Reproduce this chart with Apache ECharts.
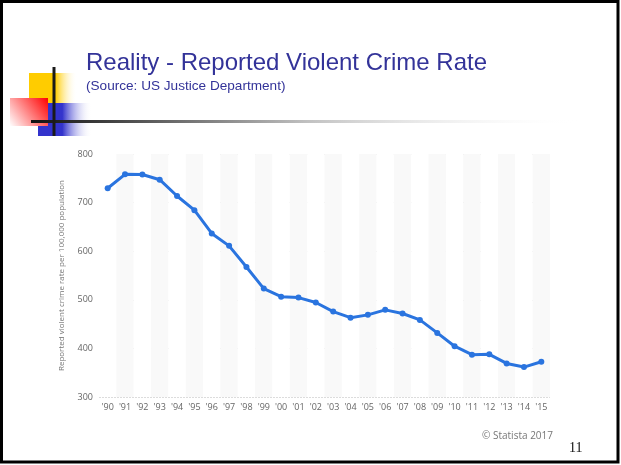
<!DOCTYPE html>
<html><head><meta charset="utf-8">
<script src="https://cdn.jsdelivr.net/npm/echarts@6/dist/echarts.min.js"></script>
<style>html,body{margin:0;padding:0;background:#fff}#c{width:621px;height:465px}</style>
</head><body><div id="c"></div>
<script>
const years = ["'90","'91","'92","'93","'94","'95","'96","'97","'98","'99","'00","'01","'02","'03","'04","'05","'06","'07","'08","'09","'10","'11","'12","'13","'14","'15"];
const crimeRate = [729.6,758.2,757.7,747.1,713.6,684.5,636.6,611.0,567.6,523.0,506.5,504.5,494.4,475.8,463.2,469.0,479.3,471.8,458.6,431.9,404.5,387.1,387.8,369.1,361.6,372.6];
const yTicks = {min:300, max:800, interval:100};
const titleText = 'Reality - Reported Violent Crime Rate';
const subText = '(Source: US Justice Department)';
const yName = 'Reported violent crime rate per 100,000 population';
const credit = '© Statista 2017';
const pageNo = '11';

const chart = echarts.init(document.getElementById('c'), null, {renderer:'canvas'});
chart.setOption({
  animation:false,
  backgroundColor:'#fff',
  grid:{left:99,right:71,top:154,bottom:68},
  xAxis:{type:'category',data:years,boundaryGap:true,
    axisLine:{show:false},axisTick:{show:false},
    axisLabel:{color:'#666',fontSize:9,margin:6,fontFamily:'Open Sans',interval:0},
    splitArea:{show:true,areaStyle:{color:['rgba(255,255,255,1)','rgba(249,249,249,1)']}}},
  yAxis:{type:'value',min:yTicks.min,max:yTicks.max,interval:yTicks.interval,
    name:yName,nameLocation:'middle',nameGap:33,
    nameTextStyle:{color:'#777',fontSize:8,fontFamily:'Open Sans'},
    axisLine:{show:false},axisTick:{show:false},
    axisLabel:{color:'#666',fontSize:9,margin:6,fontFamily:'Open Sans'},
    splitLine:{lineStyle:{color:'#dcdcdc',type:[2,1],width:1}}},
  series:[{type:'line',data:crimeRate,symbol:'circle',symbolSize:6,
    lineStyle:{color:'#2a74df',width:3},itemStyle:{color:'#2a74df'}}],
  graphic:[
    {type:'rect',shape:{x:29,y:73,width:48,height:30},style:{fill:new echarts.graphic.LinearGradient(0,0,1,0,[{offset:0,color:'#ffcc00'},{offset:0.55,color:'#ffcc00'},{offset:1,color:'rgba(255,255,255,0)'}])}},
    {type:'rect',shape:{x:38,y:103,width:54,height:33},style:{fill:new echarts.graphic.LinearGradient(0,0,1,0,[{offset:0,color:'#3333cc'},{offset:0.45,color:'#3333cc'},{offset:1,color:'rgba(255,255,255,0)'}])}},
    {type:'rect',shape:{x:10,y:98,width:38,height:28},style:{fill:new echarts.graphic.LinearGradient(1,0,0,1,[{offset:0,color:'#ff0000'},{offset:1,color:'#ffffff'}])}},
    {type:'rect',shape:{x:31,y:120,width:550,height:3},style:{fill:new echarts.graphic.LinearGradient(0,0,1,0,[{offset:0,color:'#111'},{offset:0.15,color:'#444'},{offset:0.5,color:'#c0c0c0'},{offset:1,color:'rgba(255,255,255,0)'}])}},
    {type:'rect',shape:{x:52.5,y:67,width:3,height:69},style:{fill:'#1a1a1a'}},
    {type:'text',left:86,top:51,style:{text:titleText,fontSize:24,fontFamily:'Liberation Sans',fill:'#333399'}},
    {type:'text',left:86,top:79,style:{text:subText,fontSize:13.6,fontFamily:'Liberation Sans',fill:'#333399'}},
    {type:'text',right:68,top:431,style:{text:credit,fontSize:10,fontFamily:'Open Sans',fill:'#777'}},
    {type:'text',left:569,top:441,style:{text:pageNo,fontSize:14,fontFamily:'Liberation Serif',fill:'#111'}},
    {type:'rect',shape:{x:1.5,y:1.5,width:616.5,height:460.5},style:{fill:'none',stroke:'#000',lineWidth:3}}
  ]
});
</script></body></html>
